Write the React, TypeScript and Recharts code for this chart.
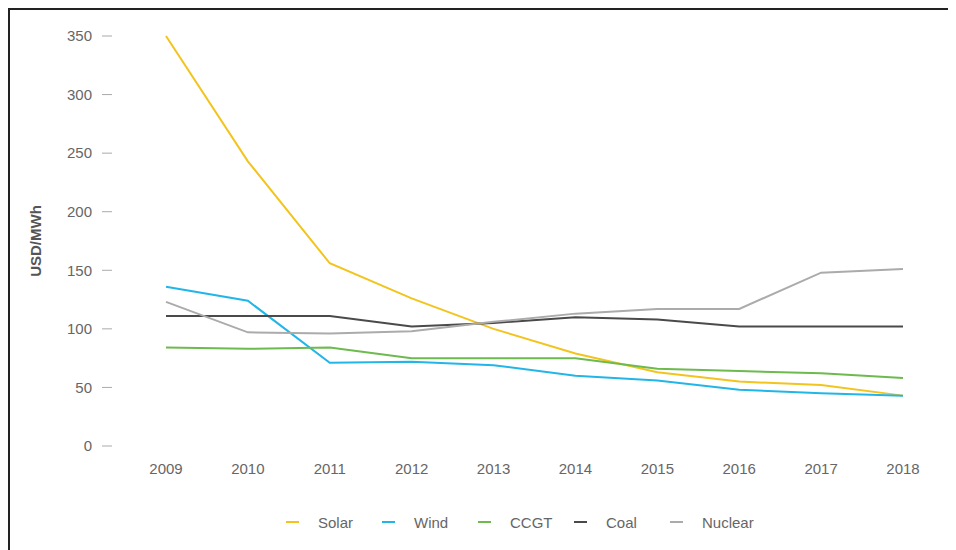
import React from 'react';
import { LineChart, Line, XAxis, YAxis, Legend } from 'recharts';

const years = ['2009', '2010', '2011', '2012', '2013', '2014', '2015', '2016', '2017', '2018'];
const solar = [350, 243, 156, 126, 100, 79, 63, 55, 52, 43];
const wind = [136, 124, 71, 72, 69, 60, 56, 48, 45, 43];
const ccgt = [84, 83, 84, 75, 75, 75, 66, 64, 62, 58];
const coal = [111, 111, 111, 102, 105, 110, 108, 102, 102, 102];
const nuclear = [123, 97, 96, 98, 106, 113, 117, 117, 148, 151];
const yTicks = [0, 50, 100, 150, 200, 250, 300, 350];

const seriesDefs = [
  { key: 'Solar', values: solar, color: '#f2c41d' },
  { key: 'Wind', values: wind, color: '#22b6e8' },
  { key: 'CCGT', values: ccgt, color: '#6dba4e' },
  { key: 'Coal', values: coal, color: '#4a4a4a' },
  { key: 'Nuclear', values: nuclear, color: '#ababab' },
];
const seriesOrder = seriesDefs.map((s) => s.key);

const data = years.map((year, i) => {
  const row: Record<string, string | number> = { year };
  seriesDefs.forEach((s) => {
    row[s.key] = s.values[i];
  });
  return row;
});

const FONT = '"Liberation Sans", Arial, Helvetica, sans-serif';

const LegendContent = (props: any) => {
  const payload = [...(props.payload || [])].sort(
    (a: any, b: any) => seriesOrder.indexOf(a.value) - seriesOrder.indexOf(b.value)
  );
  return (
    <div style={{ display: 'flex', flexDirection: 'row', alignItems: 'center', height: 20, fontFamily: FONT }}>
      {payload.map((p: any) => (
        <div key={p.value} style={{ width: 96, display: 'flex', alignItems: 'center', flexShrink: 0 }}>
          <span style={{ display: 'inline-block', width: 13, height: 2, background: p.color, marginRight: 19 }} />
          <span style={{ fontSize: 15, color: '#666', whiteSpace: 'nowrap' }}>{p.value}</span>
        </div>
      ))}
    </div>
  );
};

export default function App() {
  return (
    <div
      style={{
        width: 948,
        height: 542,
        boxSizing: 'border-box',
        borderTop: '2px solid #222',
        borderLeft: '2px solid #222',
        background: '#fff',
        fontFamily: FONT,
        overflow: 'hidden',
      }}
    >
      <LineChart width={946} height={540} data={data} margin={{ top: 26, right: 53, bottom: 54, left: 0 }}>
        <XAxis
          dataKey="year"
          axisLine={false}
          tickLine={false}
          tickSize={0}
          tickMargin={17}
          height={30}
          padding={{ left: 54, right: 0 }}
          tick={{ fill: '#666', fontSize: 15, fontFamily: FONT }}
          interval={0}
        />
        <YAxis
          width={102}
          domain={[0, 350]}
          ticks={yTicks}
          axisLine={false}
          tickLine={{ stroke: '#aaa', strokeWidth: 1 }}
          tickSize={10}
          tickMargin={10}
          tick={{ fill: '#666', fontSize: 15, fontFamily: FONT }}
          label={{
            value: 'USD/MWh',
            angle: -90,
            position: 'insideLeft',
            offset: 26,
            style: { textAnchor: 'middle', fontWeight: 600, fill: '#555', fontSize: 15, fontFamily: FONT },
          }}
        />
        <Legend
          verticalAlign="bottom"
          itemSorter={null as any}
          content={<LegendContent />}
          wrapperStyle={{ left: 276, width: 520, bottom: 18 }}
        />
        {seriesDefs.map((s) => (
          <Line
            key={s.key}
            type="linear"
            dataKey={s.key}
            stroke={s.color}
            strokeWidth={2}
            dot={false}
            activeDot={false}
            isAnimationActive={false}
          />
        ))}
      </LineChart>
    </div>
  );
}
